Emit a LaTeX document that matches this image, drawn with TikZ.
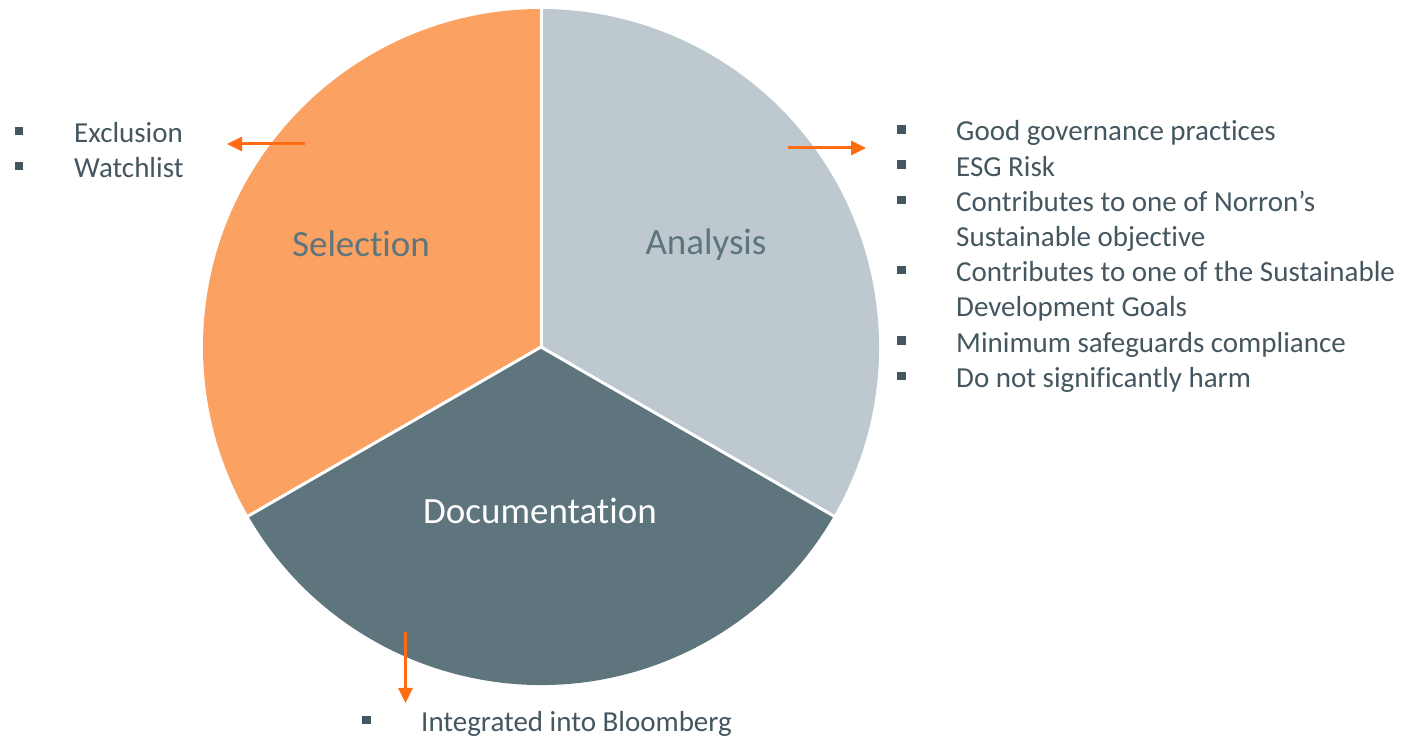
\documentclass[tikz,border=0pt]{standalone}
\usepackage{fontspec}
\setmainfont{Carlito}[Ligatures={NoCommon,NoContextual,NoRare}, Contextuals={NoAlternate}]
\usepackage{tikz}
\usetikzlibrary{arrows.meta}

\definecolor{selorange}{HTML}{FBA262}
\definecolor{anagrey}{HTML}{BDC9CE}
\definecolor{docslate}{HTML}{5E757E}
\definecolor{listtext}{HTML}{44565F}
\definecolor{arroworange}{HTML}{FF6C13}

\newcommand{\bul}{\makebox[59bp][l]{\color{listtext}\rule[7.4bp]{8.3bp}{8.3bp}}}
\newcommand{\nobul}{\makebox[59bp][l]{}}

\tikzset{
  sectorlabel/.style={anchor=base, inner sep=0pt, font=\fontsize{37bp}{44bp}\selectfont},
  bulletlist/.style={anchor=base west, inner sep=0pt, text=listtext,
    font=\fontsize{29bp}{35.2bp}\selectfont},
  pointer/.style={draw=arroworange, line width=3bp,
    -{Triangle[length=15bp,width=14bp]}},
  divider/.style={draw=white, line width=3bp}
}

\begin{document}
\begin{tikzpicture}[x=1bp, y=1bp]
        \useasboundingbox (0, 0) rectangle (1404, 741);
        \coordinate (ctr) at (541, 394);
        % the three sectors
        \fill[selorange] (ctr) -- ++(90:338bp) arc[start angle=90, end angle=210, radius=338bp] -- cycle;
        \fill[docslate] (ctr) -- ++(210:338bp) arc[start angle=210, end angle=330, radius=338bp] -- cycle;
        \fill[anagrey] (ctr) -- ++(-30:338bp) arc[start angle=-30, end angle=90, radius=338bp] -- cycle;
        \draw[divider] (ctr) -- ++(90:340bp);
        \draw[divider] (ctr) -- ++(210:340bp);
        \draw[divider] (ctr) -- ++(330:340bp);
        \node[sectorlabel, text=docslate] (sel) at (361, 484) {Selection};
        \node[sectorlabel, text=docslate] (ana) at (706, 486) {Analysis};
        \node[sectorlabel, text=white] (doc) at (540, 217) {Documentation};
        % lists
        \node[bulletlist] (sellist) at (15, 598.5) {\begin{tabular}[t]{@{}l@{}}
            \bul Exclusion\\
            \bul Watchlist
          \end{tabular}};
        \node[bulletlist] (analist) at (897, 600) {\begin{tabular}[t]{@{}l@{}}
            \bul Good governance practices\\
            \bul ESG Risk\\
            \bul Contributes to one of Norron’s\\
            \nobul Sustainable objective\\
            \bul Contributes to one of the Sustainable\\
            \nobul Development Goals\\
            \bul Minimum safeguards compliance\\
            \bul Do not significantly harm
          \end{tabular}};
        \node[bulletlist] (doclist) at (362, 9.5) {\begin{tabular}[t]{@{}l@{}}
            \bul Integrated into Bloomberg
          \end{tabular}};
        % pointers
        \coordinate (selfrom) at (305, 597);
        \coordinate (selto) at (227, 597);
        \coordinate (anafrom) at (788, 593);
        \coordinate (anato) at (866, 593);
        \coordinate (docfrom) at (405.5, 109);
        \coordinate (docto) at (405.5, 38);
        \draw[pointer] (selfrom) -- (selto);
        \draw[pointer] (anafrom) -- (anato);
        \draw[pointer] (docfrom) -- (docto);
      \end{tikzpicture}
\end{document}
